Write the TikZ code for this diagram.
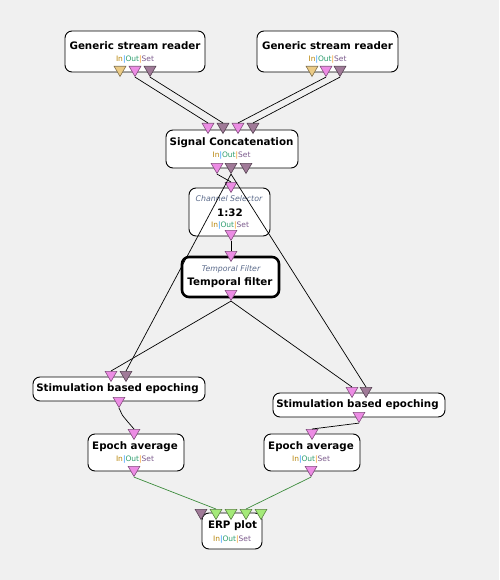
\documentclass[tikz,border=0pt]{standalone}
\usepackage{fontspec}
\setmainfont{DejaVu Sans}
\usetikzlibrary{shapes.geometric}
\definecolor{bg}{HTML}{F0F0F0}
\definecolor{ppink}{HTML}{EC8CE4}
\definecolor{pmauve}{HTML}{A07A98}
\definecolor{pyellow}{HTML}{EBCB86}
\definecolor{pgreen}{HTML}{A4EA78}
\definecolor{cin}{HTML}{B8860B}
\definecolor{cbara}{HTML}{1E90FF}
\definecolor{cout}{HTML}{2E9E6E}
\definecolor{cbarb}{HTML}{F39A1E}
\definecolor{cset}{HTML}{7B5A8C}
\definecolor{ctitle}{HTML}{5A6A8A}
\definecolor{linkgreen}{HTML}{3C8C3C}
\newcommand{\iosText}{\textcolor{cin}{In}\textcolor{cbara}{|}\textcolor{cout}{Out}\textcolor{cbarb}{|}\textcolor{cset}{Set}}
\tikzset{
  box/.style={draw=black, fill=white, rounded corners=7pt, line width=0.9pt, inner sep=0pt},
  boldbox/.style={box, line width=2.6pt},
  title/.style={inner sep=0pt, font=\bfseries\fontsize{10.3}{12}\selectfont},
  small/.style={inner sep=0pt, font=\fontsize{7.5}{9}\selectfont},
  ital/.style={inner sep=0pt, text=ctitle, font=\itshape\fontsize{7.8}{9}\selectfont},
  port/.style={regular polygon, regular polygon sides=3, shape border rotate=180,
    minimum size=13.6pt, inner sep=0pt, anchor=north, fill=#1, draw=#1!55!black, line width=0.6pt},
  link/.style={draw=black, line width=0.7pt},
  glink/.style={draw=linkgreen, line width=0.7pt}
}
\begin{document}
\begin{tikzpicture}[x=1pt,y=-1pt]
\fill[bg] (0,0) rectangle (499,580);
\useasboundingbox (0,0) rectangle (499,580);

% Generic stream readers
\node[box, minimum width=140, minimum height=41] (gsr1) at (135,51.5) {};
\node[title] (gsr1t) at (135,46) {Generic stream reader};
\node[small] (gsr1s) at (135,59.5) {\iosText};
\node[port=pyellow] (gsr1o1) at (120,66) {};
\node[port=ppink]   (gsr1o2) at (135,66) {};
\node[port=pmauve]  (gsr1o3) at (150,66) {};

\node[box, minimum width=141, minimum height=41] (gsr2) at (327.5,51.5) {};
\node[title] (gsr2t) at (327.5,46) {Generic stream reader};
\node[small] (gsr2s) at (327.5,59.5) {\iosText};
\node[port=pyellow] (gsr2o1) at (312,66) {};
\node[port=ppink]   (gsr2o2) at (326,66) {};
\node[port=pmauve]  (gsr2o3) at (340,66) {};

% Signal concatenation
\node[box, minimum width=132, minimum height=38] (cat) at (232,149) {};
\node[title] (catt) at (231.5,143) {Signal Concatenation};
\node[small] (cats) at (231.5,155.5) {\iosText};
\node[port=ppink]  (cati1) at (208,123) {};
\node[port=pmauve] (cati2) at (223,123) {};
\node[port=ppink]  (cati3) at (238,123) {};
\node[port=pmauve] (cati4) at (253,123) {};
\node[port=ppink]  (cato1) at (217,163) {};
\node[port=pmauve] (cato2) at (231,163) {};
\node[port=pmauve] (cato3) at (246,163) {};

% Channel selector
\node[box, minimum width=81, minimum height=48] (chs) at (229.5,212) {};
\node[ital] (chsi) at (229,199) {Channel Selector};
\node[title] (chst) at (230,212.5) {1:32};
\node[small] (chss) at (230,225.5) {\iosText};
\node[port=ppink] (chsin) at (231,182) {};
\node[port=ppink] (chsout) at (231,230) {};

% Temporal filter
\node[boldbox, minimum width=97, minimum height=40] (tf) at (230.5,277) {};
\node[ital] (tfi) at (231,269) {Temporal Filter};
\node[title] (tft) at (230,282.5) {Temporal filter};
\node[port=ppink] (tfin) at (231,251) {};
\node[port=ppink] (tfout) at (231,290) {};

% Stimulation based epoching
\node[box, minimum width=172, minimum height=24] (st1) at (119,389) {};
\node[title] (st1t) at (117.5,389) {Stimulation based epoching};
\node[port=ppink]  (st1i1) at (111,371) {};
\node[port=pmauve] (st1i2) at (126,371) {};
\node[port=ppink]  (st1o) at (119,397) {};

\node[box, minimum width=172, minimum height=24] (st2) at (359,405) {};
\node[title] (st2t) at (357.5,404.5) {Stimulation based epoching};
\node[port=ppink]  (st2i1) at (352,387) {};
\node[port=pmauve] (st2i2) at (366,387) {};
\node[port=ppink]  (st2o) at (359,412) {};

% Epoch averages
\node[box, minimum width=96, minimum height=37] (ea1) at (136,452.5) {};
\node[title] (ea1t) at (135,447) {Epoch average};
\node[small] (ea1s) at (135,460) {\iosText};
\node[port=ppink] (ea1i) at (134,429) {};
\node[port=ppink] (ea1o) at (134,466) {};

\node[box, minimum width=96, minimum height=37] (ea2) at (312,452.5) {};
\node[title] (ea2t) at (311,447) {Epoch average};
\node[small] (ea2s) at (311,460) {\iosText};
\node[port=ppink] (ea2i) at (312,429) {};
\node[port=ppink] (ea2o) at (311,466) {};

% ERP plot
\node[box, minimum width=60, minimum height=36] (erp) at (232,531) {};
\node[title] (erpt) at (232.5,526) {ERP plot};
\node[small] (erps) at (232,540) {\iosText};
\node[port=pmauve] (erpi1) at (201,509) {};
\node[port=pgreen] (erpi2) at (216,509) {};
\node[port=pgreen] (erpi3) at (231,509) {};
\node[port=pgreen] (erpi4) at (246,509) {};
\node[port=pgreen] (erpi5) at (261,509) {};

% Connections
\draw[link] (gsr1o2.south) -- (cati1.north);
\draw[link] (gsr1o3.south) -- (cati2.north);
\draw[link] (gsr2o2.south) -- (cati3.north);
\draw[link] (gsr2o3.south) -- (cati4.north);
\draw[link] (cato1.south) -- (chsin.north);
\draw[link] (cato2.south) -- (st1i2.north);
\draw[link] (cato2.south) -- (st2i2.north);
\draw[link] (chsout.south) -- (tfin.north);
\draw[link] (tfout.south) -- (st1i1.north);
\draw[link] (tfout.south) -- (st2i1.north);
\draw[link] (st1o.south) .. controls (121,414) .. (ea1i.north);
\draw[link] (st2o.south) -- (ea2i.north);
\draw[glink] (ea1o.south) -- (erpi2.north);
\draw[glink] (ea2o.south) -- (erpi4.north);
\end{tikzpicture}
\end{document}
